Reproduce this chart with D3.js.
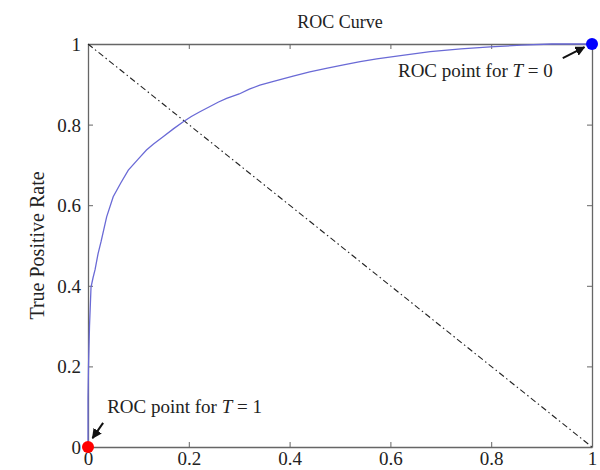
<!DOCTYPE html>
<html><head><meta charset="utf-8">
<script src="https://cdn.jsdelivr.net/npm/d3@7"></script>
<style>
html,body{margin:0;padding:0;background:#fff;}
svg{display:block;}
text{font-family:"Liberation Serif","Times New Roman",serif;fill:#222;}
</style></head>
<body>
<script>
// ROC curve data (false positive rate, true positive rate)
const fpr = [0,0,0.001,0.003,0.006,0.010,0.014,0.020,0.026,0.037,0.050,0.065,0.080,0.100,0.116,0.130,0.149,0.170,0.189,0.205,0.222,0.242,0.259,0.275,0.300,0.320,0.341,0.370,0.407,0.440,0.475,0.507,0.540,0.573,0.620,0.679,0.740,0.798,0.860,0.920,1];
const tpr = [0,0.12,0.20,0.30,0.397,0.42,0.44,0.48,0.51,0.571,0.621,0.655,0.687,0.715,0.737,0.752,0.770,0.790,0.807,0.820,0.832,0.845,0.856,0.865,0.876,0.888,0.898,0.908,0.920,0.931,0.940,0.948,0.956,0.963,0.971,0.981,0.988,0.993,0.997,1.0,1];
const diagX = [0,1];
const diagY = [1,0];
const tickValues = [0,0.2,0.4,0.6,0.8,1];
const tickLabels = ["0","0.2","0.4","0.6","0.8","1"];
const pointsX = [0,1];
const pointsY = [0,1];
const pointColors = ["#ff0000","#0000ff"];
const annoLabels = ["ROC point for ", "ROC point for "];
const annoT = ["1","0"];
const annoTextX = [0.038,0.615];
const annoTextY = [0.084,0.918];
const arrowFromX = [0.030,0.942];
const arrowFromY = [0.060,0.965];
const arrowToX = [0.009,0.985];
const arrowToY = [0.022,0.992];
const title = "ROC Curve";
const yTitle = "True Positive Rate";

const W = 600, H = 470;
const m = {l:88, r:8, t:44, b:23};
const svg = d3.select("body").append("svg").attr("width",W).attr("height",H);
const x = d3.scaleLinear().domain([0,1]).range([m.l, W-m.r]);
const y = d3.scaleLinear().domain([0,1]).range([H-m.b, m.t]);

svg.append("defs").append("marker")
  .attr("id","ah").attr("viewBox","0 0 10 10").attr("refX",9).attr("refY",5)
  .attr("markerWidth",5).attr("markerHeight",5).attr("orient","auto")
  .append("path").attr("d","M0,0L10,5L0,10z").attr("fill","#111");

const axColor = "#666";
const fs = 19;
// axes
const gb = svg.append("g").attr("transform",`translate(0,${y(0)})`)
  .call(d3.axisBottom(x).tickValues(tickValues).tickFormat((d,i)=>tickLabels[i]).tickSizeInner(-5).tickSizeOuter(0).tickPadding(8));
const gt = svg.append("g").attr("transform",`translate(0,${y(1)})`)
  .call(d3.axisTop(x).tickValues(tickValues).tickFormat("").tickSizeInner(-5).tickSizeOuter(0));
const gl = svg.append("g").attr("transform",`translate(${x(0)},0)`)
  .call(d3.axisLeft(y).tickValues(tickValues).tickFormat((d,i)=>tickLabels[i]).tickSizeInner(-5).tickSizeOuter(0).tickPadding(7));
const gr = svg.append("g").attr("transform",`translate(${x(1)},0)`)
  .call(d3.axisRight(y).tickValues(tickValues).tickFormat("").tickSizeInner(-5).tickSizeOuter(0));
[gb,gt,gl,gr].forEach(g=>{
  g.select(".domain").attr("stroke",axColor).attr("stroke-width",1.3);
  g.selectAll(".tick line").attr("stroke",axColor);
  g.selectAll("text").style("font-family",'"Liberation Serif",serif').attr("font-size",fs).attr("fill","#222");
});
gb.selectAll(".tick text").attr("dy","0.55em");
gl.selectAll(".tick text").attr("dy","0.34em");

// diagonal
svg.append("path").datum(diagX.map((d,i)=>[d,diagY[i]]))
  .attr("d",d3.line().x(d=>x(d[0])).y(d=>y(d[1])))
  .attr("stroke","#222").attr("stroke-width",1.1).attr("fill","none")
  .attr("stroke-dasharray","6,3,1.5,3");

// ROC curve
svg.append("path").datum(fpr.map((d,i)=>[d,tpr[i]]))
  .attr("d",d3.line().x(d=>x(d[0])).y(d=>y(d[1])))
  .attr("stroke","#6a6ad6").attr("stroke-width",1.3).attr("fill","none");

// points
svg.selectAll("circle.pt").data(pointsX).join("circle").attr("class","pt")
  .attr("cx",(d)=>x(d)).attr("cy",(d,i)=>y(pointsY[i])).attr("r",6)
  .attr("fill",(d,i)=>pointColors[i]);

// arrows
svg.selectAll("line.arr").data(arrowFromX).join("line").attr("class","arr")
  .attr("x1",d=>x(d)).attr("y1",(d,i)=>y(arrowFromY[i]))
  .attr("x2",(d,i)=>x(arrowToX[i])).attr("y2",(d,i)=>y(arrowToY[i]))
  .attr("stroke","#111").attr("stroke-width",2).attr("marker-end","url(#ah)");

// annotation text
const at = svg.selectAll("text.anno").data(annoLabels).join("text").attr("class","anno")
  .attr("x",(d,i)=>x(annoTextX[i])).attr("y",(d,i)=>y(annoTextY[i])).attr("font-size",fs);
at.append("tspan").text(d=>d);
at.append("tspan").attr("font-style","italic").text("T");
at.append("tspan").text((d,i)=>" = "+annoT[i]);

// title
svg.append("text").attr("x",(x(0)+x(1))/2).attr("y",28).attr("text-anchor","middle")
  .attr("font-size",18).text(title);
// y label
svg.append("text").attr("transform",`translate(44,${(y(0)+y(1))/2}) rotate(-90)`)
  .attr("text-anchor","middle").attr("font-size",20).text(yTitle);
</script>
</body></html>
